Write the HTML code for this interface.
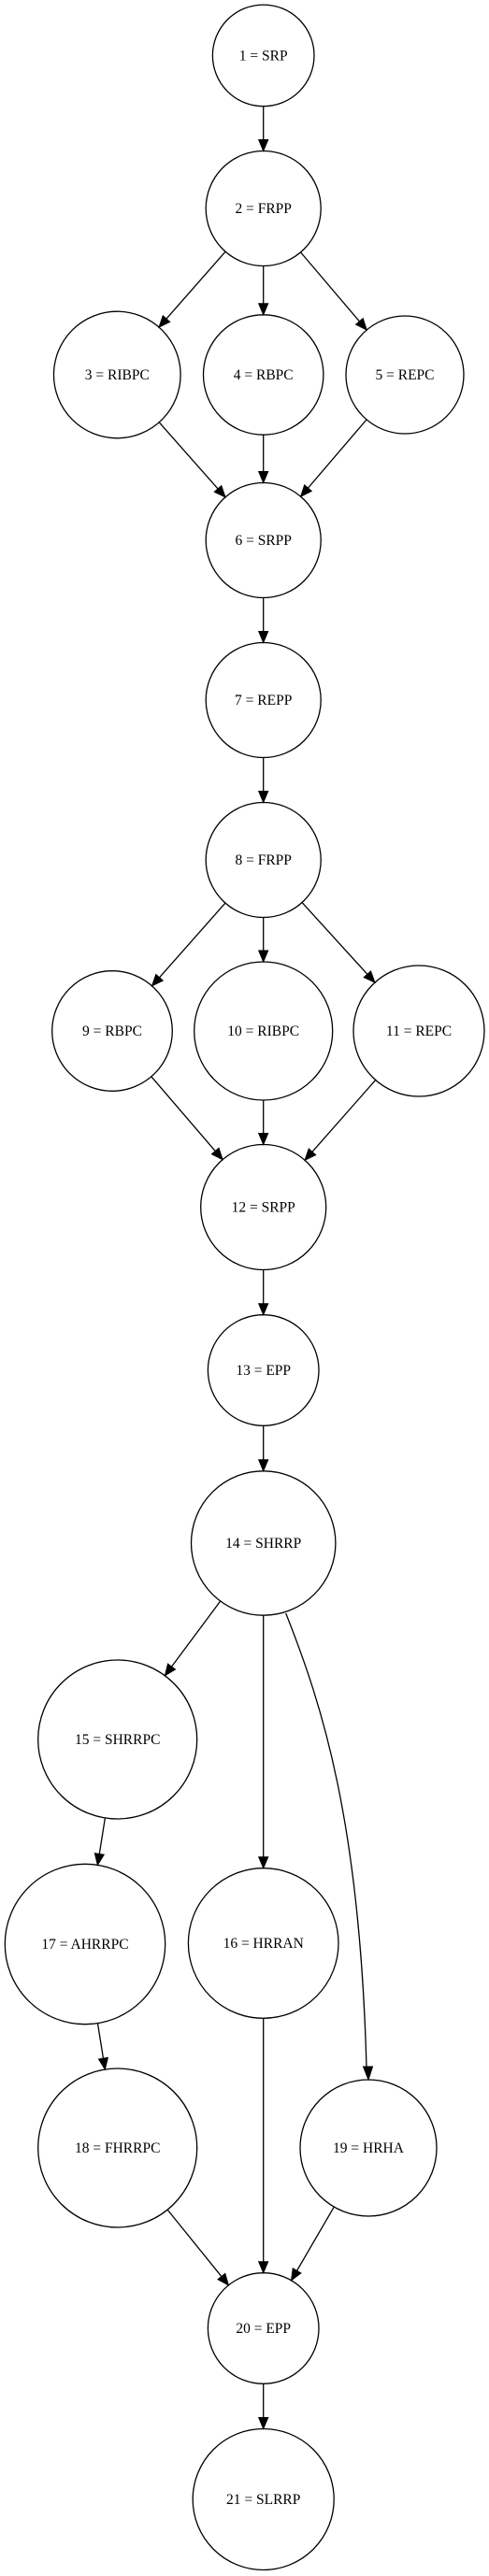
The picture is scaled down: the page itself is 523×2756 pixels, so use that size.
<!DOCTYPE html>
<html><head><meta charset="utf-8"><style>
html,body{margin:0;padding:0;background:#fff;width:523px;height:2756px;overflow:hidden}
svg text{font-family:"Liberation Serif",serif;font-size:15.5px;fill:#000}
</style></head><body>
<svg id="g" width="523" height="2756" viewBox="0 0 523 2756" xmlns="http://www.w3.org/2000/svg">
<path d="M305.7,1726 C345,1825 385,1950 392,2212" fill="none" stroke="#000" stroke-width="1.3"/>
<polygon points="394,2225 388.5,2211 398.5,2211" fill="#000" stroke="#000"/>
<g id="e"></g><g id="n"></g>
</svg>
<script>
var N={
1:[281.7,59.4,54.3,"1 = SRP"],2:[281.7,223,61.5,"2 = FRPP"],3:[125.3,401,67.8,"3 = RIBPC"],
4:[281.7,401,64.2,"4 = RBPC"],5:[433,401,63,"5 = REPC"],6:[281.7,578,61.5,"6 = SRPP"],
7:[281.7,749,61.5,"7 = REPP"],8:[281.7,920,61.5,"8 = FRPP"],9:[120,1103,64.3,"9 = RBPC"],
10:[281.7,1103,74,"10 = RIBPC"],11:[448,1103,70,"11 = REPC"],12:[281.7,1291.5,67,"12 = SRPP"],
13:[281.7,1466,59.3,"13 = EPP"],14:[281.7,1651,77.2,"14 = SHRRP"],15:[125.7,1861,85,"15 = SHRRPC"],
16:[281.7,2079,80.3,"16 = HRRAN"],17:[91,2080,85.7,"17 = AHRRPC"],18:[125.7,2298,85,"18 = FHRRPC"],
19:[394,2298,73,"19 = HRHA"],20:[281.7,2491,59.3,"20 = EPP"],21:[281.7,2674,75.5,"21 = SLRRP"]};
var E=[[1,2],[2,3],[2,4],[2,5],[3,6],[4,6],[5,6],[6,7],[7,8],[8,9],[8,10],[8,11],[9,12],[10,12],[11,12],[12,13],[13,14],[14,15],[14,16],[15,17],[17,18],[16,20],[18,20],[19,20],[20,21]];
var ns="http://www.w3.org/2000/svg",eg=document.getElementById("e"),ng=document.getElementById("n");
function el(t,a,p){var x=document.createElementNS(ns,t);for(var k in a)x.setAttribute(k,a[k]);p.appendChild(x);return x;}
E.forEach(function(e){var a=N[e[0]],b=N[e[1]];var dx=b[0]-a[0],dy=b[1]-a[1],L=Math.hypot(dx,dy),ux=dx/L,uy=dy/L;
var sx=a[0]+ux*a[2],sy=a[1]+uy*a[2],tx=b[0]-ux*b[2],ty=b[1]-uy*b[2];var bx=tx-ux*12,by=ty-uy*12;
el("line",{x1:sx,y1:sy,x2:bx,y2:by,stroke:"#000","stroke-width":1.3},eg);
el("polygon",{points:tx+","+ty+" "+(bx-uy*5)+","+(by+ux*5)+" "+(bx+uy*5)+","+(by-ux*5),fill:"#000",stroke:"#000"},eg);});
for(var k in N){var v=N[k];el("circle",{cx:v[0],cy:v[1],r:v[2],fill:"none",stroke:"#000","stroke-width":1.3},ng);
var t=el("text",{x:v[0],y:v[1]+5,"text-anchor":"middle"},ng);t.textContent=v[3];}
</script>
</body></html>
